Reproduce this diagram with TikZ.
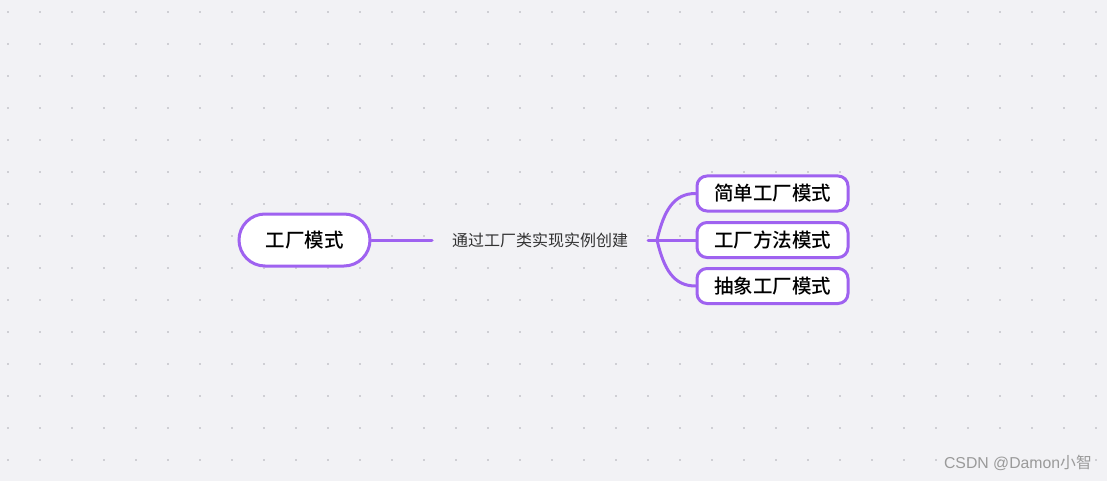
\documentclass[tikz,border=0pt]{standalone}
\usepackage{fontspec}
\newfontfamily\cjk{Noto Sans CJK SC}
\newfontfamily\cjkmed{Noto Sans CJK SC Medium}
\setmainfont{Liberation Sans}
\definecolor{bg}{HTML}{F2F2F5}
\definecolor{gridc}{HTML}{CFCFD4}
\definecolor{purp}{HTML}{9F62F0}
\definecolor{wm}{HTML}{9A9A9A}
\definecolor{lbl}{HTML}{333333}
\tikzset{
  rootbox/.style={draw=purp, line width=3pt, fill=white, rounded corners=26pt,
    minimum width=131pt, minimum height=52pt, inner sep=0pt,
    font=\cjkmed\fontsize{19.5}{22}\selectfont},
  childbox/.style={draw=purp, line width=3pt, fill=white, rounded corners=10pt,
    minimum width=151pt, minimum height=35pt, inner sep=0pt,
    font=\cjkmed\fontsize{19.5}{22}\selectfont},
  edgelabel/.style={inner sep=0pt, text=lbl, font=\cjk\fontsize{16}{18}\selectfont},
  conn/.style={draw=purp, line width=3pt, line cap=round},
}
\begin{document}
\begin{tikzpicture}[x=1pt,y=-1pt]
\fill[bg] (0,0) rectangle (1107,481);
\useasboundingbox (0,0) rectangle (1107,481);
\foreach \i in {0,...,34} {
  \foreach \j in {0,...,14} {
    \fill[gridc] ({8+32*\i-1},{12+32*\j-1}) rectangle ++(2,2);
  }
}
\node[rootbox] (root) at (304.5,240) {工厂模式};
\node[edgelabel] (lab) at (540,240) {通过工厂类实现实例创建};
\coordinate (l1) at (432,240);
\coordinate (l2) at (648,240);
\coordinate (br) at (657,240);
\node[childbox] (c1) at (772.5,193.5) {简单工厂模式};
\node[childbox] (c2) at (772.5,240) {工厂方法模式};
\node[childbox] (c3) at (772.5,286) {抽象工厂模式};
\draw[conn] (root.east) -- (l1);
\draw[conn] (l2) -- (br);
\draw[conn] (br) .. controls (664,210) and (674,193.5) .. (c1.west);
\draw[conn] (br) -- (c2.west);
\draw[conn] (br) .. controls (664,270) and (674,286) .. (c3.west);
\node[anchor=east, inner sep=0pt, text=wm, font=\fontsize{15.8}{18}\selectfont] (wmk) at (1092,463) {CSDN @Damon{\cjk 小智}};
\end{tikzpicture}
\end{document}
